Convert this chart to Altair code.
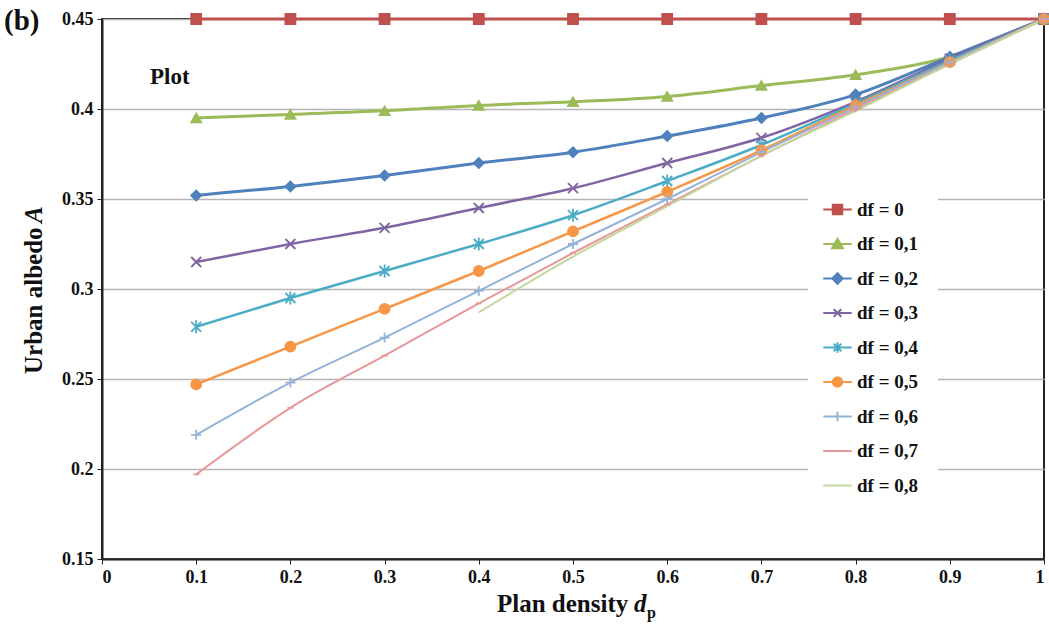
import altair as alt
import pandas as pd

x_vals = [0.1, 0.2, 0.3, 0.4, 0.5, 0.6, 0.7, 0.8, 0.9, 1.0]
series_names = ["df = 0", "df = 0,1", "df = 0,2", "df = 0,3", "df = 0,4",
                "df = 0,5", "df = 0,6", "df = 0,7", "df = 0,8"]
df0 = [0.45, 0.45, 0.45, 0.45, 0.45, 0.45, 0.45, 0.45, 0.45, 0.45]
df1 = [0.395, 0.397, 0.399, 0.402, 0.404, 0.407, 0.413, 0.419, 0.429, 0.45]
df2 = [0.352, 0.357, 0.363, 0.370, 0.376, 0.385, 0.395, 0.408, 0.429, 0.45]
df3 = [0.315, 0.325, 0.334, 0.345, 0.356, 0.370, 0.384, 0.404, 0.428, 0.45]
df4 = [0.279, 0.295, 0.310, 0.325, 0.341, 0.360, 0.380, 0.403, 0.427, 0.45]
df5 = [0.247, 0.268, 0.289, 0.310, 0.332, 0.354, 0.377, 0.402, 0.426, 0.45]
df6 = [0.219, 0.248, 0.273, 0.299, 0.325, 0.350, 0.376, 0.401, 0.426, 0.45]
df7 = [0.197, 0.234, 0.263, 0.292, 0.320, 0.347, 0.374, 0.400, 0.425, 0.45]
df8 = [None, None, None, 0.287, 0.318, 0.346, 0.374, 0.399, 0.425, 0.45]
all_series = [df0, df1, df2, df3, df4, df5, df6, df7, df8]

colors = ["#C0504D", "#9BBB59", "#4F81BD", "#8064A2", "#4BACC6",
          "#F79646", "#95B3D7", "#E6989A", "#C3D69B"]
shapes = ["square", "triangle-up", "diamond",
          "M-1,-1L1,1M-1,1L1,-1",
          "M-1,-1L1,1M-1,1L1,-1M0,-1.3L0,1.3",
          "circle",
          "M-1,0L1,0M0,-1L0,1",
          "M-0.6,0L0.6,0",
          "M0,0L0,0"]
# legend symbols: a short line segment through the marker
legend_shapes = [
    "M-3,0L3,0M-1,-1L1,-1L1,1L-1,1Z",
    "M-3,0L3,0M0,-1.1L1.15,0.9L-1.15,0.9Z",
    "M-3,0L3,0M0,-1.1L1.1,0L0,1.1L-1.1,0Z",
    "M-3,0L3,0M-0.8,-0.8L0.8,0.8M-0.8,0.8L0.8,-0.8",
    "M-3,0L3,0M-0.8,-0.8L0.8,0.8M-0.8,0.8L0.8,-0.8M0,-1.1L0,1.1",
    "M-3,0L3,0M1,0A1,1,0,1,1,-1,0A1,1,0,1,1,1,0Z",
    "M-3,0L3,0M0,-1L0,1",
    "M-3,0L3,0",
    "M-3,0L3,0",
]
widths = [3, 3, 3, 2.5, 2.5, 2.5, 2, 2, 2]

rows = []
for name, vals, w in zip(series_names, all_series, widths):
    for xv, yv in zip(x_vals, vals):
        if yv is not None:
            rows.append({"dp": xv, "A": yv, "series": name, "w": w})
data = pd.DataFrame(rows)

serif = "Liberation Serif"
W, H = 942, 540

xs = alt.X("dp:Q", scale=alt.Scale(domain=[0, 1], nice=False),
           axis=alt.Axis(values=[0, 0.1, 0.2, 0.3, 0.4, 0.5, 0.6, 0.7, 0.8, 0.9, 1.0],
                         format=".1~f", title=None, grid=False, domainColor="#222",
                         domainWidth=2, tickColor="#222", tickSize=5,
                         labelFont=serif, labelFontWeight="bold", labelFontSize=18,
                         labelColor="#111", labelPadding=4))
ys = alt.Y("A:Q", scale=alt.Scale(domain=[0.15, 0.45], nice=False),
           axis=alt.Axis(values=[0.15, 0.2, 0.25, 0.3, 0.35, 0.4, 0.45],
                         format=".2~f", title=None, grid=True, gridColor="#b5b5b5",
                         gridWidth=1.5, domainColor="#222", domainWidth=2,
                         tickColor="#222", tickSize=5,
                         labelFont=serif, labelFontWeight="bold", labelFontSize=18,
                         labelColor="#111", labelPadding=4))

color_scale = alt.Scale(domain=series_names, range=colors)
shape_scale = alt.Scale(domain=series_names, range=shapes)
legend_shape_scale = alt.Scale(domain=series_names, range=legend_shapes)

legend = alt.Legend(title=None, orient="none", legendX=706, legendY=161,
                    labelFont=serif, labelFontWeight="bold",
                    labelFontSize=19, labelColor="#111",
                    symbolSize=90, symbolStrokeWidth=2, symbolOpacity=1,
                    rowPadding=14.5, fillColor="white",
                    padding=20, labelOffset=10)

lines = alt.Chart(data).mark_line(interpolate="monotone").encode(
    x=xs, y=ys,
    color=alt.Color("series:N", scale=color_scale, legend=None),
    strokeWidth=alt.StrokeWidth("w:Q", scale=None, legend=None),
    detail="series:N",
)

points = alt.Chart(data).mark_point(filled=True, size=100, strokeWidth=1.8, opacity=1).encode(
    x="dp:Q", y="A:Q",
    color=alt.Color("series:N", scale=color_scale, legend=None),
    stroke=alt.Stroke("series:N", scale=color_scale, legend=None),
    shape=alt.Shape("series:N", scale=shape_scale, legend=None),
)

# legend-only layer: draws no marks itself, it only carries the legend
legend_layer = alt.Chart(data).transform_filter("datum.A < 0").mark_point(
    filled=True, size=90, strokeWidth=2, opacity=1).encode(
    x="dp:Q", y="A:Q",
    color=alt.Color("series:N", scale=color_scale, legend=legend),
    stroke=alt.Stroke("series:N", scale=color_scale, legend=legend),
    shape=alt.Shape("series:N", scale=legend_shape_scale, legend=legend),
)

one = alt.Data(values=[{"k": 1}])

def txt(text, x, y, size, italic=False, angle=0, align="left", baseline="alphabetic"):
    kw = dict(font=serif, fontWeight="bold", fontSize=size, color="#111",
              align=align, baseline=baseline)
    if italic:
        kw["fontStyle"] = "italic"
    if angle:
        kw["angle"] = angle
    return alt.Chart(one).mark_text(**kw).encode(
        x=alt.value(x), y=alt.value(y), text=alt.value(text))

# page coords -> plot coords: subtract (102, 19)
labels = [
    txt("(b)", 4 - 102, 30 - 19, 29),
    txt("Plot", 150 - 102, 84 - 19, 23),
    txt("Plan density", 497 - 102, 612 - 19, 25),
    txt("d", 634 - 102, 612 - 19, 25, italic=True),
    txt("p", 647 - 102, 618 - 19, 16),
    txt("Urban albedo", 42 - 102, 374 - 19, 25, angle=270),
    txt("A", 42 - 102, 223 - 19, 25, italic=True, angle=270),
]

main = alt.layer(lines, points, *labels)

chart = alt.layer(main, legend_layer).resolve_scale(
    color="independent", shape="independent", stroke="independent"
).properties(
    width=W, height=H,
    padding={"left": 102, "top": 19, "right": 5, "bottom": 71},
    autosize=alt.AutoSizeParams(type="none"),
    background="white",
).configure_view(stroke="#222", strokeWidth=2)

chart.save("out.html", embed_options={"renderer": "svg", "actions": False})
